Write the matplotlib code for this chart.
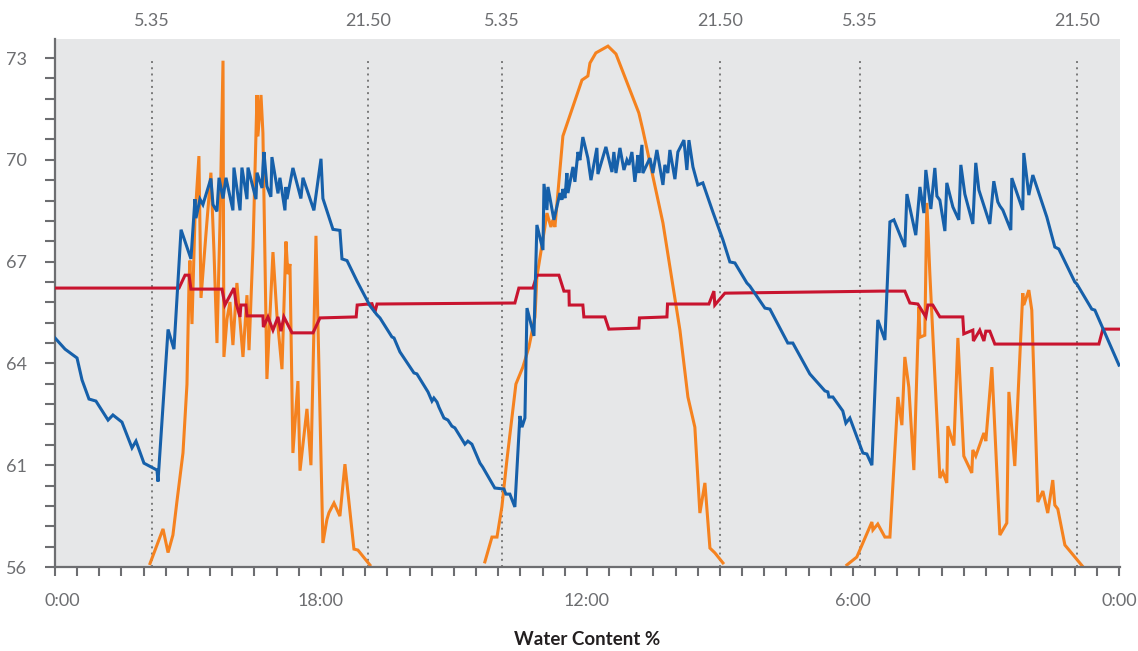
import numpy as np
import matplotlib
matplotlib.use("Agg")
import matplotlib.pyplot as plt
import matplotlib.transforms as mtransforms
from matplotlib.ticker import FixedLocator, FixedFormatter, NullFormatter

nan = float("nan")

# ---------------- data (hours since start, value) ----------------
blue_t = [0, 0.68, 1.49, 1.83, 2.30, 2.77, 3.59, 3.92, 4.53, 5.21, 5.48, 6.02, 6.90, 6.97,
          7.65, 8.05, 8.53, 9.20, 9.47, 9.54, 9.81, 10.01, 10.55, 10.69, 10.96, 11.10, 11.37,
          11.57, 12.04, 12.11, 12.52, 12.65, 12.99, 13.06, 13.60, 13.67, 14.01, 14.07, 14.14,
          14.34, 14.61, 14.68, 15.09, 15.22, 15.56, 15.63, 15.70, 16.10, 16.64, 16.78, 17.52,
          18.00, 18.13, 18.81, 19.28, 19.42, 19.76, 20.43, 21.31, 21.79, 21.99, 22.80, 22.94,
          23.34, 24.29, 24.49, 25.24, 25.51, 25.64, 25.85, 25.98, 26.32, 26.59, 26.86, 27.06,
          27.74, 27.94, 28.21, 28.76, 28.94, 29.76, 30.38, 30.51, 30.78, 31.12, 31.46, 31.60,
          31.80, 31.94, 32.41, 32.61, 33.02, 33.09, 33.29, 33.36, 33.76, 34.17, 34.30, 34.37,
          34.51, 34.64, 34.71, 35.05, 35.18, 35.39, 35.52, 35.72, 36.06, 36.27, 36.67, 36.74,
          37.28, 37.69, 37.82, 37.96, 38.23, 38.50, 38.70, 38.84, 39.04, 39.24, 39.45, 39.51,
          39.72, 39.78, 40.26, 40.46, 40.73, 41.14, 41.27, 41.47, 41.61, 41.95, 42.15, 42.56,
          42.76, 42.90, 43.17, 43.50, 43.84, 44.52, 45.20, 45.67, 46.01, 46.82, 47.02, 48.04,
          48.38, 49.59, 49.93, 51.08, 52.10, 52.30, 52.37, 52.64, 53.31, 53.52, 53.79, 54.67,
          54.94, 55.28, 55.68, 56.16, 56.50, 56.77, 57.51, 57.65, 58.25, 58.53, 58.80, 58.93,
          59.27, 59.54, 59.68, 59.88, 60.22, 60.35, 60.76, 61.16, 61.30, 61.57, 62.11, 62.31,
          62.52, 63.26, 63.53, 63.80, 63.94, 64.14, 64.68, 64.75, 65.49, 65.56, 65.90, 66.17,
          66.51, 67.12, 67.66, 67.93, 69.01, 69.15, 70.16, 70.37, 72.0]
blue_v = [64.75, 64.42, 64.16, 63.51, 62.95, 62.89, 62.33, 62.48, 62.27, 61.51, 61.71, 61.06, 60.76, 60.2,
          65.0, 64.42, 67.94, 67.08, 68.84, 68.28, 68.84, 68.68, 69.45, 68.68, 68.48, 69.47, 68.86,
          69.47, 68.51, 69.77, 68.51, 69.77, 68.84, 69.77, 68.84, 69.62, 69.17, 69.77, 70.23,
          69.22, 68.91, 70.08, 69.01, 69.47, 68.51, 69.20, 68.84, 69.76, 68.86, 69.47, 68.51,
          70.03, 68.86, 67.95, 67.92, 67.08, 67.03, 66.43, 65.70, 65.43, 65.34, 64.78, 64.75,
          64.34, 63.72, 63.69, 63.16, 62.89, 62.98, 62.86, 62.71, 62.39, 62.33, 62.15, 62.10,
          61.62, 61.71, 61.62, 61.06, 60.91, 59.88, 59.83, 59.58, 59.58, 58.95, 62.45, 62.12,
          62.39, 65.63, 64.81, 68.08, 67.34, 69.29, 68.52, 69.20, 68.23, 69.02, 68.82, 69.14,
          68.87, 69.61, 69.02, 69.79, 69.35, 70.23, 69.99, 70.67, 70.05, 69.40, 70.35, 69.58,
          70.38, 69.64, 70.23, 69.61, 70.35, 69.70, 69.99, 69.85, 70.23, 69.35, 70.14, 69.61,
          70.44, 69.61, 70.05, 69.61, 70.29, 69.26, 69.85, 69.61, 70.29, 69.43, 70.23, 70.58,
          69.70, 70.58, 69.79, 69.26, 69.32, 68.46, 67.64, 66.99, 66.96, 66.37, 66.28, 65.63,
          65.60, 64.60, 64.60, 63.69, 63.19, 63.16, 63.01, 63.01, 62.60, 62.24, 62.39, 61.36,
          61.33, 61.0, 65.28, 64.69, 68.17, 68.23, 67.43, 68.99, 67.78, 69.20, 68.43, 69.70,
          68.55, 69.76, 68.93, 68.81, 67.90, 69.32, 68.61, 68.23, 69.85, 68.99, 68.11, 69.91,
          69.11, 68.11, 69.37, 68.76, 68.64, 68.52, 67.93, 69.46, 68.52, 70.20, 68.96, 69.55,
          69.11, 68.31, 67.43, 67.37, 66.40, 66.34, 65.60, 65.57, 63.95]

red_t = [0, 8.39, 8.80, 9.07, 9.20, 11.30, 11.50, 12.11, 12.25, 12.52, 12.58, 12.92, 12.99,
         14.07, 14.10, 14.41, 14.75, 15.09, 15.29, 15.49, 16.04, 17.46, 17.93, 20.38, 20.45,
         21.45, 21.65, 21.79, 31.12, 31.39, 32.34, 32.61, 34.10, 34.44, 34.78, 34.80, 35.72,
         35.79, 37.21, 37.48, 39.51, 39.55, 41.41, 41.45, 44.25, 44.59, 44.65, 45.33, 55.82,
         57.51, 57.85, 58.39, 58.93, 59.07, 59.40, 59.88, 61.43, 61.50, 62.11, 62.15, 62.58,
         62.86, 62.99, 63.26, 63.60, 70.64, 70.91, 72.0]
red_v = [66.22, 66.22, 66.60, 66.60, 66.19, 66.19, 65.72, 66.22, 65.78, 65.37, 65.72, 65.72, 65.40,
         65.40, 65.07, 65.37, 64.98, 65.37, 64.95, 65.37, 64.90, 64.90, 65.34, 65.37, 65.72,
         65.76, 65.51, 65.75, 65.78, 66.22, 66.22, 66.60, 66.60, 66.13, 66.13, 65.72, 65.72,
         65.37, 65.37, 65.01, 65.04, 65.34, 65.37, 65.75, 65.75, 66.13, 65.72, 66.07, 66.13,
         66.13, 65.78, 65.75, 65.37, 65.72, 65.72, 65.37, 65.37, 64.87, 64.98, 64.66, 64.98,
         64.66, 64.95, 64.95, 64.57, 64.57, 65.01, 65.01]

orange_t = [6.43, 7.31, 7.65, 7.98, 8.25, 8.66, 8.93, 9.07, 9.13, 9.27, 9.47, 9.74, 9.88, 10.22,
            10.55, 10.76, 10.96, 11.16, 11.37, 11.43, 11.64, 11.84, 12.04, 12.31, 12.72, 12.99,
            13.13, 13.40, 13.67, 13.73, 13.94, 14.07, 14.34, 14.75, 15.02, 15.36, 15.63, 15.76,
            15.90, 16.10, 16.44, 16.58, 17.05, 17.32, 17.66, 18.13, 18.40, 18.54, 18.88, 19.28,
            19.62, 20.23, 20.50, 21.31,
            25.0,
            29.09, 29.57, 29.91, 30.24, 30.58, 31.19, 31.66, 32.07, 32.48, 32.61, 33.15, 33.29,
            33.56, 33.69, 33.83, 34.37, 35.32, 35.66, 36.06, 36.20, 36.60, 37.42, 37.96, 39.51,
            39.78, 41.14, 42.29, 42.83, 43.30, 43.64, 43.98, 44.32, 44.66, 45.20,
            49.0,
            53.59, 54.26, 55.28, 55.35, 55.68, 56.16, 56.50, 57.04, 57.31, 57.51, 57.78, 58.12,
            58.46, 58.53, 58.86, 59.00, 59.20, 59.88, 60.08, 60.35, 60.42, 60.83, 61.10, 61.50,
            62.04, 62.11, 62.31, 62.86, 62.99, 63.40, 63.94, 64.41, 64.55, 64.95, 65.49, 65.56,
            65.90, 66.10, 66.51, 66.85, 67.18, 67.52, 67.66, 67.86, 68.34, 69.69]
orange_v = [56.17, 57.87, 56.71, 57.57, 59.21, 61.36, 63.38, 66.43, 67.03, 65.16, 68.25, 70.11, 65.93, 67.84,
            69.62, 67.28, 64.60, 68.05, 72.92, 64.19, 65.31, 65.81, 64.54, 66.37, 64.19, 66.01,
            64.39, 67.43, 71.91, 70.69, 71.91, 70.79, 63.54, 67.28, 65.41, 63.83, 67.59, 66.63,
            66.93, 61.36, 63.48, 60.73, 62.66, 61.0, 67.76, 57.18, 58.33, 58.67, 59.14, 58.50,
            61.03, 56.88, 56.83, 56.10,
            nan,
            56.25, 57.47, 57.47, 58.95, 61.15, 63.39, 63.89, 64.48, 65.37, 66.55, 68.02, 68.43,
            68.02, 68.23, 68.02, 70.70, 71.91, 72.35, 72.47, 72.85, 73.15, 73.35, 73.12, 71.38,
            70.88, 68.14, 64.98, 63.01, 62.12, 58.65, 60.13, 56.93, 56.69, 56.20,
            nan,
            56.10, 56.49, 58.21, 57.82, 58.11, 57.47, 57.47, 63.01, 62.18, 64.19, 63.30, 60.76,
            65.66, 64.77, 64.83, 68.73, 66.66, 60.37, 60.67, 60.13, 62.15, 61.58, 64.75, 61.27,
            60.62, 61.45, 61.27, 61.95, 61.71, 63.89, 57.57, 58.16, 63.16, 60.96, 66.07, 65.72,
            66.16, 65.57, 59.19, 59.73, 58.65, 60.27, 59.04, 58.85, 57.08, 55.90]

sun_t = [6.56, 21.21, 30.24, 45.03, 54.49, 69.17]
sun_labels = ["5.35", "21.50", "5.35", "21.50", "5.35", "21.50"]

xtick_hours = [0, 18, 36, 54, 72]
xtick_labels = ["0:00", "18:00", "12:00", "6:00", "0:00"]

ytick_vals = [56, 61, 64, 67, 70, 73]
ytick_labels = ["56", "61", "64", "67", "70", "73"]

xlabel = "Water Content %"

# ---------------- styling ----------------
BLUE = "#1660aa"
ORANGE = "#f5821f"
RED = "#c8142f"
BG = "#e6e7e8"
TICK = "#6d6e71"
TXT = "#6d6e71"
FONT = ["Lato", "DejaVu Sans"]

plt.rcParams["font.family"] = FONT


def fwd(v):
    v = np.asarray(v, dtype=float)
    return np.where(v >= 61, v, 61 - (61 - v) * 0.6)


def inv(u):
    u = np.asarray(u, dtype=float)
    return np.where(u >= 61, u, 61 - (61 - u) / 0.6)


fig = plt.figure(figsize=(11.38, 6.51), dpi=100)
ax = fig.add_axes([55 / 1138, 1 - 567 / 651, (1120 - 55) / 1138, (567 - 39) / 651])
ax.set_facecolor(BG)
ax.set_yscale("function", functions=(fwd, inv))
ax.set_xlim(0, 72.07)
ax.set_ylim(56, 73.56)

for t in sun_t:
    ax.vlines(t, 56, 73.02, colors="#7a7a7a", linewidth=1.4, linestyles=(0, (1, 2.2)), zorder=1)

ax.plot(orange_t, orange_v, color=ORANGE, lw=2.2, zorder=2, solid_joinstyle="miter")
ax.plot(red_t, red_v, color=RED, lw=2.2, zorder=3, solid_joinstyle="miter")
ax.plot(blue_t, blue_v, color=BLUE, lw=2.2, zorder=4, solid_joinstyle="miter")

# spines
for s in ["top", "right"]:
    ax.spines[s].set_visible(False)
for s in ["left", "bottom"]:
    ax.spines[s].set_color(TICK)
    ax.spines[s].set_linewidth(1.6)

# y ticks
ax.yaxis.set_major_locator(FixedLocator(ytick_vals))
ax.yaxis.set_major_formatter(FixedFormatter(ytick_labels))
fy = fwd(ytick_vals)
minor_y = []
for a, b in zip(fy[:-1], fy[1:]):
    for k in range(1, 5):
        minor_y.append(float(inv(a + (b - a) * k / 5)))
ax.yaxis.set_minor_locator(FixedLocator(minor_y))
ax.yaxis.set_minor_formatter(NullFormatter())
ax.tick_params(axis="y", which="both", direction="out", length=7.5, width=1.5,
               color=TICK, labelcolor=TXT, labelsize=13, pad=13)

# x ticks
ax.xaxis.set_major_locator(FixedLocator(xtick_hours))
ax.xaxis.set_major_formatter(FixedFormatter(xtick_labels))
ax.xaxis.set_minor_locator(FixedLocator(list(np.arange(0, 72.01, 1.5))))
ax.tick_params(axis="x", which="both", direction="out", length=6.5, width=1.5,
               color=TICK, labelcolor=TXT, labelsize=13, pad=12)

# top labels
top = ax.secondary_xaxis("top")
top.set_xticks(sun_t)
top.set_xticklabels(sun_labels)
top.tick_params(axis="x", length=0, labelsize=13, labelcolor=TXT, pad=7)
top.spines["top"].set_visible(False)

ax.set_xlabel(xlabel, fontsize=13.5, fontweight="bold", color="#231f20", labelpad=16)

fig.canvas.draw()
first = ax.get_xticklabels()[0]
first.set_transform(first.get_transform() +
                    mtransforms.ScaledTranslation(7 / 100, 0, fig.dpi_scale_trans))

fig.savefig("out.png", dpi=100)
